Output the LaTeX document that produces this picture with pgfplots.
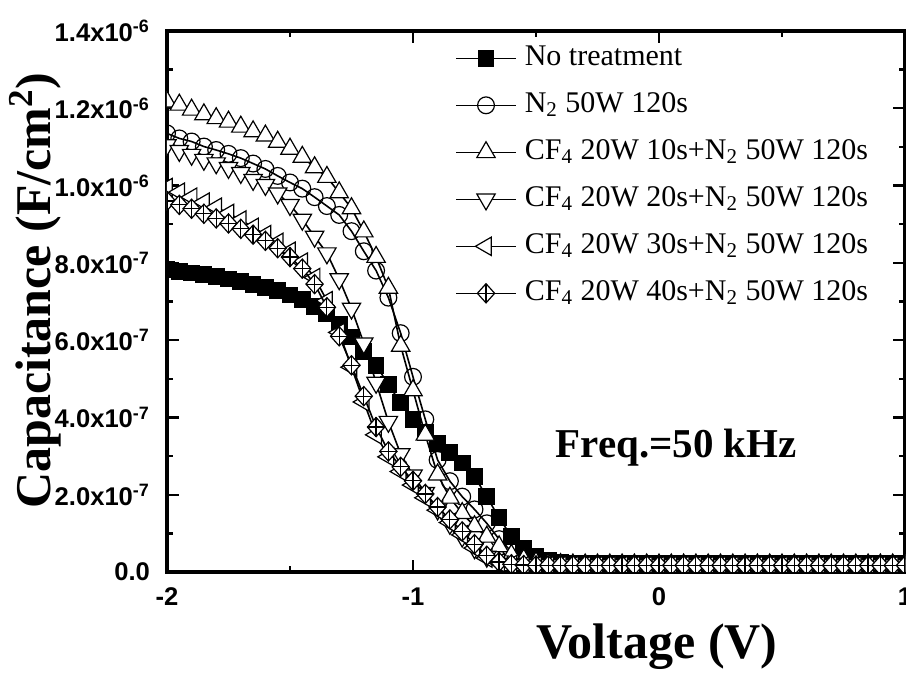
\documentclass[border=0pt]{standalone}
\usepackage{fontspec}
\setmainfont{Liberation Serif}
\setsansfont{Liberation Sans}
\usepackage{pgfplots}
\usepackage{pgfplotstable}
\pgfplotsset{compat=1.18}
\pgfdeclareplotmark{dplus}{%
 \pgfpathmoveto{\pgfqpoint{0pt}{\pgfplotmarksize}}%
 \pgfpathlineto{\pgfqpoint{0.9\pgfplotmarksize}{0pt}}%
 \pgfpathlineto{\pgfqpoint{0pt}{-\pgfplotmarksize}}%
 \pgfpathlineto{\pgfqpoint{-0.9\pgfplotmarksize}{0pt}}%
 \pgfpathclose
 \pgfusepathqfillstroke
 \pgfpathmoveto{\pgfqpoint{0pt}{\pgfplotmarksize}}%
 \pgfpathlineto{\pgfqpoint{0pt}{-\pgfplotmarksize}}%
 \pgfpathmoveto{\pgfqpoint{-0.9\pgfplotmarksize}{0pt}}%
 \pgfpathlineto{\pgfqpoint{0.9\pgfplotmarksize}{0pt}}%
 \pgfusepathqstroke
}
% capacitance in units of 1e-7 F/cm^2
\pgfplotstableread{
V s1 s2 s3 s4 s5 s6
-2.00 7.82 11.35 12.17 11.05 9.95 9.60
-1.95 7.78 11.22 12.09 10.90 9.83 9.50
-1.90 7.74 11.14 11.96 10.80 9.70 9.40
-1.85 7.70 11.01 11.84 10.67 9.57 9.27
-1.80 7.65 10.92 11.74 10.58 9.44 9.15
-1.75 7.58 10.82 11.65 10.46 9.28 9.02
-1.70 7.52 10.71 11.52 10.33 9.11 8.88
-1.65 7.45 10.57 11.40 10.15 8.92 8.73
-1.60 7.37 10.43 11.29 10.02 8.73 8.57
-1.55 7.28 10.25 11.13 9.80 8.53 8.38
-1.50 7.17 10.08 10.95 9.50 8.30 8.15
-1.45 7.05 9.92 10.74 9.12 8.02 7.85
-1.40 6.88 9.70 10.47 8.68 7.62 7.45
-1.35 6.68 9.47 10.22 8.25 7.02 6.85
-1.30 6.42 9.24 9.82 7.58 6.20 6.10
-1.25 6.08 8.82 9.41 6.82 5.30 5.35
-1.20 5.70 8.30 8.81 5.92 4.40 4.55
-1.15 5.35 7.80 8.15 4.90 3.55 3.75
-1.10 4.85 7.10 7.35 3.89 2.98 3.12
-1.05 4.38 6.18 5.85 3.05 2.60 2.72
-1.00 3.95 5.05 4.70 2.50 2.25 2.36
-0.95 3.62 3.95 3.55 2.05 1.92 2.02
-0.90 3.32 2.90 2.52 1.62 1.60 1.68
-0.85 3.10 2.35 1.92 1.25 1.28 1.36
-0.80 2.82 1.95 1.52 0.92 0.96 1.05
-0.75 2.47 1.62 1.18 0.62 0.62 0.72
-0.70 1.95 1.26 0.91 0.40 0.36 0.42
-0.65 1.40 0.85 0.66 0.28 0.24 0.26
-0.60 0.92 0.53 0.44 0.22 0.19 0.20
-0.55 0.62 0.35 0.32 0.19 0.17 0.18
-0.50 0.40 0.27 0.25 0.18 0.17 0.17
-0.45 0.30 0.23 0.21 0.18 0.17 0.17
-0.40 0.25 0.21 0.20 0.18 0.17 0.17
-0.35 0.23 0.20 0.19 0.18 0.17 0.17
-0.30 0.22 0.20 0.19 0.18 0.17 0.17
-0.25 0.22 0.20 0.19 0.18 0.17 0.17
-0.20 0.22 0.20 0.19 0.18 0.17 0.17
-0.15 0.22 0.20 0.19 0.18 0.17 0.17
-0.10 0.22 0.20 0.19 0.18 0.17 0.17
-0.05 0.22 0.20 0.19 0.18 0.17 0.17
0.00 0.22 0.20 0.19 0.18 0.17 0.17
0.05 0.22 0.20 0.19 0.18 0.17 0.17
0.10 0.22 0.20 0.19 0.18 0.17 0.17
0.15 0.22 0.20 0.19 0.18 0.17 0.17
0.20 0.22 0.20 0.19 0.18 0.17 0.17
0.25 0.22 0.20 0.19 0.18 0.17 0.17
0.30 0.22 0.20 0.19 0.18 0.17 0.17
0.35 0.22 0.20 0.19 0.18 0.17 0.17
0.40 0.22 0.20 0.19 0.18 0.17 0.17
0.45 0.22 0.20 0.19 0.18 0.17 0.17
0.50 0.22 0.20 0.19 0.18 0.17 0.17
0.55 0.22 0.20 0.19 0.18 0.17 0.17
0.60 0.22 0.20 0.19 0.18 0.17 0.17
0.65 0.22 0.20 0.19 0.18 0.17 0.17
0.70 0.22 0.20 0.19 0.18 0.17 0.17
0.75 0.22 0.20 0.19 0.18 0.17 0.17
0.80 0.22 0.20 0.19 0.18 0.17 0.17
0.85 0.22 0.20 0.19 0.18 0.17 0.17
0.90 0.22 0.20 0.19 0.18 0.17 0.17
0.95 0.22 0.20 0.19 0.18 0.17 0.17
1.00 0.22 0.20 0.19 0.18 0.17 0.17
}\data
\begin{document}
\begin{tikzpicture}
\begin{axis}[
 scale only axis, width=369pt, height=270.5pt,
 xmin=-2, xmax=1, ymin=0, ymax=14,
 xtick={-2,-1,0,1}, xticklabels={-2,-1,0,1},
 minor xtick={-1.5,-0.5,0.5},
 ytick={0,2,4,6,8,10,12,14},
 yticklabels={0.0,2.0x10\textsuperscript{-7},4.0x10\textsuperscript{-7},6.0x10\textsuperscript{-7},8.0x10\textsuperscript{-7},1.0x10\textsuperscript{-6},1.2x10\textsuperscript{-6},1.4x10\textsuperscript{-6}},
 minor ytick={1,3,5,7,9,11,13},
 tick align=inside,
 xtick pos=both, ytick pos=both,
 major tick length=6pt, minor tick length=3pt,
 axis line style={line width=1.6pt},
 every tick/.style={black, line width=1.2pt},
 ticklabel style={font=\sffamily\bfseries\fontsize{12.8}{14}\selectfont},
 xticklabel style={yshift=-4.5pt},
 yticklabel style={xshift=-5pt},
 xlabel={Voltage (V)},
 ylabel={Capacitance (F/cm\textsuperscript{2})},
 label style={font=\bfseries\fontsize{25}{28}\selectfont},
 xlabel style={at={(axis description cs:0.664,-0.159)}, anchor=base},
 ylabel style={at={(axis description cs:-0.179,0.52)}, anchor=center},
 clip marker paths=true,
 every axis plot/.append style={black, line width=0.8pt},
 legend image code/.code={\draw[mark repeat=2,mark phase=2,#1] plot coordinates {(0pt,0pt) (15pt,0pt) (30pt,0pt)};},
 legend style={draw=none, fill=none, inner sep=0pt, at={(axis description cs:0.39,0.978)}, anchor=north west,
   font=\fontsize{15}{17}\selectfont, cells={anchor=west},
   nodes={inner sep=1pt, text height=10pt, text depth=3pt}, row sep=8.5pt, column sep=3pt},
]
\addplot[mark=square*, mark size=3.9pt, mark options={fill=black, line width=0.6pt}] table[x=V,y=s1] {\data};
\addlegendentry{No treatment}
\addplot[mark=o, mark size=4.2pt, mark options={fill=white, line width=0.6pt}] table[x=V,y=s2] {\data};
\addlegendentry{N\textsubscript{2} 50W 120s}
\addplot[mark=triangle*, mark size=5.3pt, mark options={fill=white, line width=0.6pt}] table[x=V,y=s3] {\data};
\addlegendentry{CF\textsubscript{4} 20W 10s+N\textsubscript{2} 50W 120s}
\addplot[mark=triangle*, mark size=5.3pt, mark options={fill=white, rotate=180, line width=0.6pt}] table[x=V,y=s4] {\data};
\addlegendentry{CF\textsubscript{4} 20W 20s+N\textsubscript{2} 50W 120s}
\addplot[mark=triangle*, mark size=5.3pt, mark options={fill=white, rotate=90, line width=0.6pt}] table[x=V,y=s5] {\data};
\addlegendentry{CF\textsubscript{4} 20W 30s+N\textsubscript{2} 50W 120s}
\addplot[mark=dplus, mark size=4.8pt, mark options={fill=white, line width=0.6pt}] table[x=V,y=s6] {\data};
\addlegendentry{CF\textsubscript{4} 20W 40s+N\textsubscript{2} 50W 120s}
\node[font=\bfseries\fontsize{20.5}{24}\selectfont] at (axis cs:0.07,3.23) {Freq.=50 kHz};
\end{axis}
\pgfresetboundingbox
\path[use as bounding box] ([xshift=-83.5pt,yshift=-53.5pt]current axis.south west) rectangle ([xshift=0.5pt,yshift=15.5pt]current axis.north east);
\end{tikzpicture}
\end{document}
